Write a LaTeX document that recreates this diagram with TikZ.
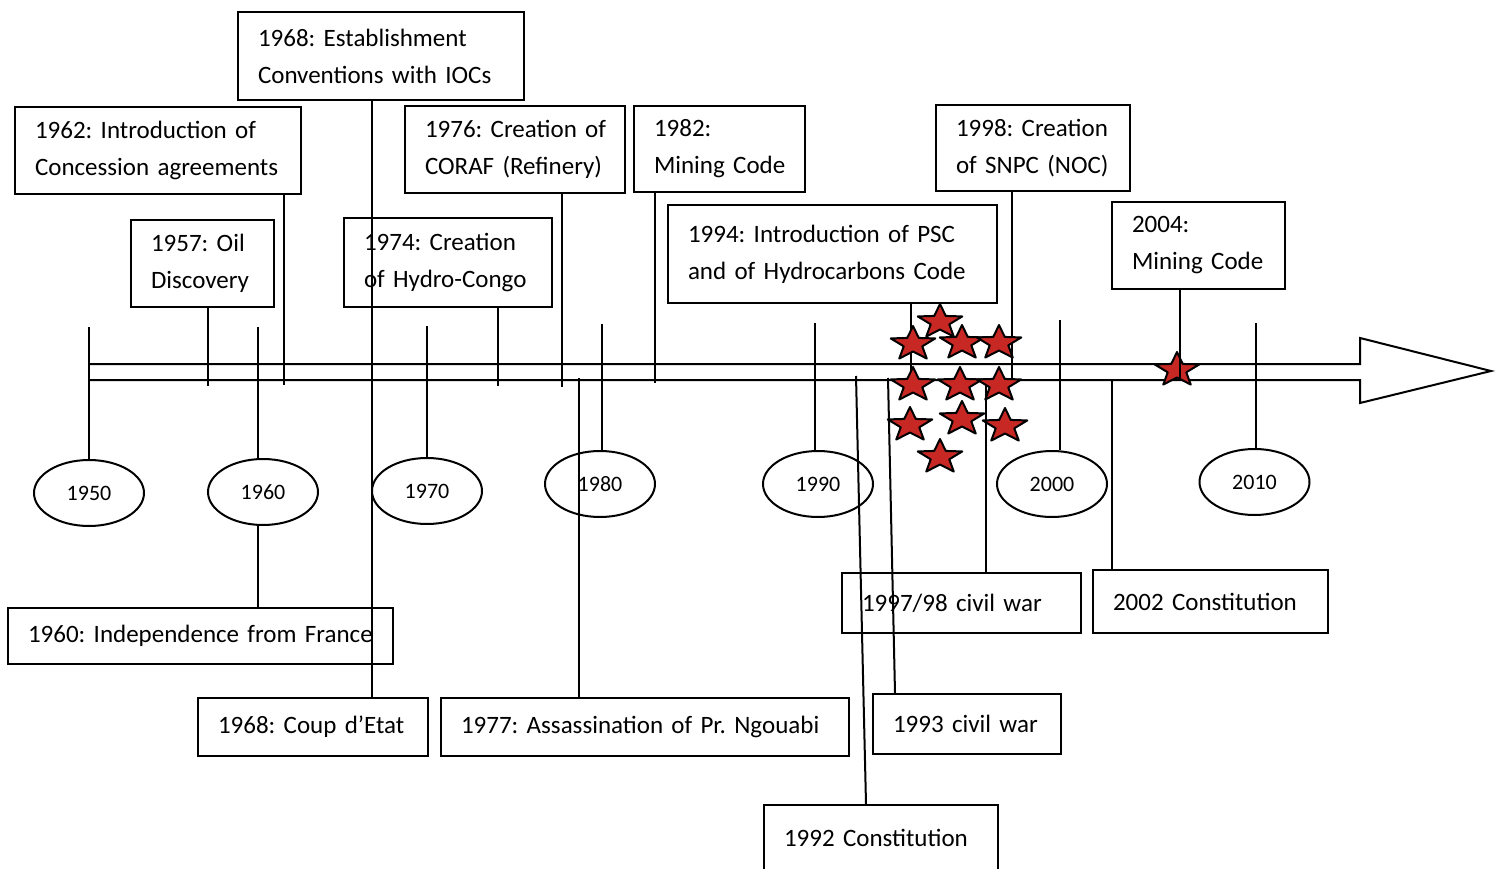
\documentclass[tikz,border=0pt]{standalone}
\usepackage{fontspec}
\setmainfont{Carlito}
\frenchspacing
\hyphenpenalty=10000
\usetikzlibrary{shapes.geometric}
\definecolor{starred}{RGB}{200,40,36}
\tikzset{
  event/.style={draw,line width=2pt,align=left,inner xsep=20pt,inner ysep=2pt,font=\fontsize{25}{37}\selectfont},
  year/.style={draw,ellipse,line width=2pt,minimum width=110,minimum height=66,inner sep=0pt,font=\fontsize{22}{26}\selectfont},
  link/.style={line width=2pt},
  redstar/.pic={\draw[line width=2pt,fill=starred,line join=round,xscale=1.3]
    (90:18pt) \foreach \a in {90,162,234,306,18}{ -- (\a+36:7.5pt) -- (\a+72:18pt)} -- cycle;}
}

\begin{document}
\begin{tikzpicture}[x=1pt,y=-1pt]
  \useasboundingbox (0,0) rectangle (1499,869);
  % Events above the axis
  \node[event,minimum width=143,minimum height=87,text width=103pt] (oil) at (202.5,263.5) {1957: Oil\\Discovery};
  \node[event,minimum width=286,minimum height=87,text width=246pt] (conc) at (158,150.5) {1962: Introduction of\\Concession~agreements};
  \node[event,minimum width=286,minimum height=88,text width=246pt] (est) at (381,56) {1968: Establishment\\Conventions with IOCs};
  \node[event,minimum width=208,minimum height=89,text width=168pt] (hydro) at (448,262.5) {1974: Creation\\of Hydro-Congo};
  \node[event,minimum width=220,minimum height=87,text width=180pt] (coraf) at (515,149.5) {1976:~Creation~of\\CORAF (Refinery)};
  \node[event,minimum width=171,minimum height=86,text width=131pt] (mine82) at (719.5,149) {1982:\\Mining~Code};
  \node[event,minimum width=329,minimum height=98,text width=289pt] (psc) at (832.5,254) {1994: Introduction of PSC\\and of Hydrocarbons Code};
  \node[event,minimum width=194,minimum height=86,text width=154pt] (snpc) at (1033,148) {1998: Creation\\of SNPC (NOC)};
  \node[event,minimum width=173,minimum height=87,text width=133pt] (mine04) at (1198.5,245.5) {2004:\\Mining~Code};
  % Events below the axis
  \node[event,minimum width=385,minimum height=56,text width=345pt] (indep) at (200.5,636) {1960: Independence~from~France};
  \node[event,minimum width=230,minimum height=58,text width=190pt] (coup) at (313,727) {1968: Coup d’Etat};
  \node[event,minimum width=408,minimum height=58,text width=368pt] (assas) at (645,727) {1977: Assassination of Pr. Ngouabi};
  \node[event,minimum width=234,minimum height=66,text width=194pt] (const92) at (881,838) {1992 Constitution};
  \node[event,minimum width=188,minimum height=60,text width=148pt] (war93) at (967,724) {1993 civil war};
  \node[event,minimum width=239,minimum height=60,text width=199pt] (war97) at (961.5,603) {1997/98 civil war};
  \node[event,minimum width=235,minimum height=63,text width=195pt] (const02) at (1210.5,601.5) {2002 Constitution};
  % Decades on the axis
  \foreach \yr/\cx/\cy/\tx/\ty in {1950/89/493/89/327,1960/263/492/258/327,1970/427/491/427/326,
      1980/600/484/602/324,1990/818/484/815/323,2000/1052/484/1060/320,2010/1254.5/482/1256/323}{
    \node[year] (y\yr) at (\cx,\cy) {\yr};
    \coordinate (t\yr) at (\tx,\ty);
    \draw[link] (t\yr) -- (t\yr |- y\yr.north);
  }
  % Time axis
  \draw[link,line join=miter] (88,380) -- (1360,380) -- (1360,403) -- (1491,371) -- (1360,338) -- (1360,364) -- (88,364);
  % Where the connectors meet the axis
  \coordinate (k57) at (208,386);
  \coordinate (k62) at (284,385);
  \coordinate (k68) at (372,0);
  \coordinate (k74) at (498,386);
  \coordinate (k76) at (562,387);
  \coordinate (k82) at (655,383);
  \coordinate (k94) at (911,380);
  \coordinate (k98) at (1012,385);
  \coordinate (k04) at (1180,378);
  \coordinate (k77) at (579,378);
  \coordinate (k92) at (856,376);
  \coordinate (k93) at (888,378);
  \coordinate (k97) at (986,379);
  \coordinate (k02) at (1112,379);
  \draw[link] (oil.south -| k57) -- (k57);
  \draw[link] (conc.south -| k62) -- (k62);
  \draw[link] (est.south -| k68) -- (coup.north -| k68);
  \draw[link] (hydro.south -| k74) -- (k74);
  \draw[link] (coraf.south -| k76) -- (k76);
  \draw[link] (mine82.south -| k82) -- (k82);
  \draw[link] (psc.south -| k94) -- (k94);
  \draw[link] (snpc.south -| k98) -- (k98);
  \draw[link] (y1960.south -| t1960) -- (indep.north -| t1960);
  \draw[link] (k77) -- (assas.north -| k77);
  \draw[link] (k92) -- ([xshift=-15pt]const92.north);
  \draw[link] (k93) -- ([xshift=-72pt]war93.north);
  \draw[link] (k97) -- (war97.north -| k97);
  \draw[link] (k02) -- (const02.north -| k02);
  % Stars
  \foreach \sx/\sy in {940/322,913/344,962/343,999/343,913/385,960/385,999/385,910/425,962/419,1005/426,940/457}
    \pic at (\sx,\sy) {redstar};
  \pic at (1177,370) {redstar};
  \draw[link] (mine04.south -| k04) -- (k04);
\end{tikzpicture}
\end{document}
